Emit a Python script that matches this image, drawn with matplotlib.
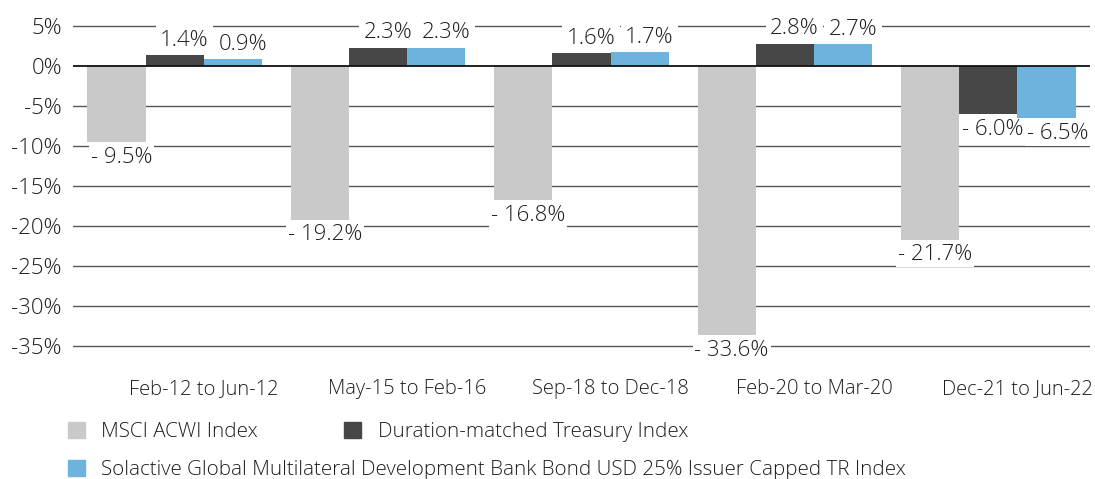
import matplotlib
matplotlib.use('Agg')
import matplotlib.pyplot as plt
import matplotlib.transforms as mtransforms
from matplotlib.patches import Patch
import numpy as np

categories = ['Feb-12 to Jun-12', 'May-15 to Feb-16', 'Sep-18 to Dec-18',
              'Feb-20 to Mar-20', 'Dec-21 to Jun-22']
msci_acwi = [-9.5, -19.2, -16.8, -33.6, -21.7]
treasury = [1.4, 2.3, 1.6, 2.8, -6.0]
solactive = [0.9, 2.3, 1.7, 2.7, -6.5]
series_names = ['MSCI ACWI Index', 'Duration-matched Treasury Index',
                'Solactive Global Multilateral Development Bank Bond USD 25% Issuer Capped TR Index']
y_ticks = [5, 0, -5, -10, -15, -20, -25, -30, -35]

colors = ['#c9c9c9', '#474747', '#6cb4dd']
text_color = '#1e1e1e'

plt.rcParams['font.family'] = ['Open Sans', 'DejaVu Sans']
plt.rcParams['font.weight'] = 'light'

# 5% sits at y=26 px, -35% at y=346 px -> 8 px per percent
fig = plt.figure(figsize=(10.95, 4.79), dpi=100)
ax = fig.add_axes([73 / 1095, 1 - 348.4 / 479, (1090 - 73) / 1095, (348.4 - 23.6) / 479])

x = np.arange(len(categories))
w = 0.286
all_series = [msci_acwi, treasury, solactive]
for k, (vals, col) in enumerate(zip(all_series, colors)):
    pos = x + (k - 1) * w
    ax.bar(pos, vals, width=w, color=col, zorder=3)
    for i, (px, v) in enumerate(zip(pos, vals)):
        txt = f'{v:.1f}%' if v >= 0 else f'- {abs(v):.1f}%'
        # white boxes break the gridlines but sit under the bars
        if v >= 0:
            ax.annotate(txt, (px, v), xytext=(7, 3), textcoords='offset points',
                        ha='center', va='bottom', fontsize=16, color=text_color,
                        zorder=2, bbox=dict(boxstyle='square,pad=0.2', fc='white', ec='none'))
        else:
            dx = 3.5
            # push apart two negative labels sitting side by side
            if k == 2 and all_series[1][i] < 0:
                dx = 8
            ax.annotate(txt, (px, v), xytext=(dx, -3.5), textcoords='offset points',
                        ha='center', va='top', fontsize=16, color=text_color,
                        zorder=2, bbox=dict(boxstyle='square,pad=0.08', fc='white', ec='none'))

for yv in y_ticks:
    if yv == 0:
        ax.axhline(yv, color='#111111', lw=1.3, zorder=4)
    else:
        ax.axhline(yv, color='#555555', lw=1.0, zorder=1)

ax.set_xlim(-0.5, 4.5)
ax.set_ylim(-35.3, 5.3)
ax.set_yticks(y_ticks)
ax.set_yticklabels([f'{v}%' for v in y_ticks], fontsize=16, color=text_color)
ax.set_xticks(x)
ax.set_xticklabels(categories, fontsize=14.5, color=text_color)
ax.tick_params(axis='both', length=0)
ax.tick_params(axis='y', pad=8)
ax.tick_params(axis='x', pad=22)
offset = mtransforms.ScaledTranslation(29 / 100, 0, fig.dpi_scale_trans)
for lab in ax.get_xticklabels():
    lab.set_transform(lab.get_transform() + offset)
for s in ax.spines.values():
    s.set_visible(False)

h = [Patch(color=c) for c in colors]
leg1 = fig.legend(h[:2], series_names[:2], loc='center left', ncol=2,
                  bbox_to_anchor=(68 / 1095, 1 - 432 / 479), frameon=False,
                  fontsize=14.8, handlelength=0.82, handleheight=0.82,
                  handletextpad=0.8, columnspacing=4.2, borderpad=0, borderaxespad=0,
                  labelcolor=text_color)
leg2 = fig.legend(h[2:], series_names[2:], loc='center left',
                  bbox_to_anchor=(68 / 1095, 1 - 470 / 479), frameon=False,
                  fontsize=14.8, handlelength=0.82, handleheight=0.82,
                  handletextpad=0.8, borderpad=0, borderaxespad=0,
                  labelcolor=text_color)

fig.savefig('out.png', dpi=100)
